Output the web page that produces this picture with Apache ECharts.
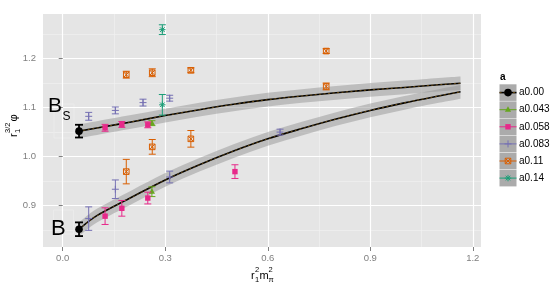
<!DOCTYPE html>
<html><head><meta charset="utf-8">
<script src="https://cdn.jsdelivr.net/npm/echarts@6/dist/echarts.min.js"></script>
<style>html,body{margin:0;padding:0;background:#fff}#c{width:559px;height:285px}</style>
</head><body><div id="c"></div>
<script>
// ---------- data ----------
const groups = ['a0.00', 'a0.043', 'a0.058', 'a0.083', 'a0.11', 'a0.14'];
const groupColors = ['#000000', '#66A61E', '#E7298A', '#7570B3', '#D95F02', '#1B9E77'];
const groupShapes = ['circle', 'triangle', 'square', 'plus', 'boxx', 'star'];

const a000_x = [0.0477, 0.0477];
const a000_y = [1.0517, 0.8513];
const a000_e = [0.013, 0.014];

const a043_x = [0.261, 0.261];
const a043_y = [1.068, 0.928];
const a043_e = [0.005, 0.010];

const a058_x = [0.124, 0.173, 0.249, 0.124, 0.173, 0.249, 0.504];
const a058_y = [1.0585, 1.0654, 1.0646, 0.878, 0.894, 0.915, 0.969];
const a058_e = [0.007, 0.006, 0.006, 0.017, 0.016, 0.012, 0.014];

const a083_x = [0.076, 0.154, 0.235, 0.313, 0.076, 0.154, 0.313, 0.636];
const a083_y = [1.082, 1.094, 1.110, 1.119, 0.873, 0.933, 0.958, 1.0497];
const a083_e = [0.008, 0.007, 0.007, 0.006, 0.024, 0.019, 0.012, 0.006];

const a011_x = [0.186, 0.262, 0.375, 0.262, 0.375, 0.186, 0.771, 0.771];
const a011_y = [1.167, 1.171, 1.176, 1.0196, 1.036, 0.969, 1.2153, 1.143];
const a011_e = [0.007, 0.008, 0.005, 0.015, 0.017, 0.025, 0.005, 0.007];

const a014_x = [0.2915, 0.2915];
const a014_y = [1.259, 1.1055];
const a014_e = [0.010, 0.021];

// fitted curves
const fit_x   = [0.0477, 0.1, 0.2, 0.3, 0.4, 0.5, 0.6, 0.7, 0.8, 0.9, 1.0, 1.1, 1.164];
const fitBs_y = [1.0517, 1.058, 1.0705, 1.0835, 1.0955, 1.1065, 1.116, 1.1235, 1.130, 1.136, 1.141, 1.1465, 1.1495];
const fitB_y  = [0.8513, 0.879, 0.916, 0.952, 0.983, 1.011, 1.036, 1.057, 1.0765, 1.094, 1.1095, 1.1235, 1.132];
const bandHalf = 0.014;

const xTicks = [0.0, 0.3, 0.6, 0.9, 1.2];
const xMinor = [0.15, 0.45, 0.75, 1.05];
const yTicks = [0.9, 1.0, 1.1, 1.2];
const yMinor = [0.85, 0.95, 1.05, 1.15, 1.25];
const xRange = [-0.0577, 1.224];
const yRange = [0.815, 1.291];

// ---------- helpers ----------
const groupData = [
  [a000_x, a000_y, a000_e], [a043_x, a043_y, a043_e], [a058_x, a058_y, a058_e],
  [a083_x, a083_y, a083_e], [a011_x, a011_y, a011_e], [a014_x, a014_y, a014_e]
];
function zip3(xs, ys, es) { return xs.map((x, i) => [x, ys[i], es[i]]); }

function symbolEls(kind, cx, cy, color) {
  const s = { stroke: color, lineWidth: 1, fill: 'none' };
  switch (kind) {
    case 'circle': return [{ type: 'circle', shape: { cx, cy, r: 3.8 }, style: { fill: color } }];
    case 'triangle': return [{ type: 'polygon', shape: { points: [[cx, cy - 3.4], [cx + 3.1, cy + 2.1], [cx - 3.1, cy + 2.1]] }, style: { fill: color } }];
    case 'square': return [{ type: 'rect', shape: { x: cx - 2.7, y: cy - 2.7, width: 5.4, height: 5.4 }, style: { fill: color } }];
    case 'plus': return [
      { type: 'line', shape: { x1: cx - 3.5, y1: cy, x2: cx + 3.5, y2: cy }, style: s },
      { type: 'line', shape: { x1: cx, y1: cy - 3.5, x2: cx, y2: cy + 3.5 }, style: s }];
    case 'boxx': return [
      { type: 'rect', shape: { x: cx - 2.8, y: cy - 2.8, width: 5.6, height: 5.6 }, style: s },
      { type: 'line', shape: { x1: cx - 2.8, y1: cy - 2.8, x2: cx + 2.8, y2: cy + 2.8 }, style: s },
      { type: 'line', shape: { x1: cx - 2.8, y1: cy + 2.8, x2: cx + 2.8, y2: cy - 2.8 }, style: s }];
    case 'star': return [
      { type: 'line', shape: { x1: cx - 3.2, y1: cy, x2: cx + 3.2, y2: cy }, style: s },
      { type: 'line', shape: { x1: cx, y1: cy - 3.2, x2: cx, y2: cy + 3.2 }, style: s },
      { type: 'line', shape: { x1: cx - 2.3, y1: cy - 2.3, x2: cx + 2.3, y2: cy + 2.3 }, style: s },
      { type: 'line', shape: { x1: cx - 2.3, y1: cy + 2.3, x2: cx + 2.3, y2: cy - 2.3 }, style: s }];
  }
  return [];
}

function makeErrSeries(gi) {
  const color = groupColors[gi], kind = groupShapes[gi];
  const isBlack = gi === 0;
  return {
    name: groups[gi], type: 'custom', z: 5,
    data: zip3(groupData[gi][0], groupData[gi][1], groupData[gi][2]),
    encode: { x: 0, y: 1 },
    renderItem: function (params, api) {
      const x = api.value(0), y = api.value(1), e = api.value(2);
      const c = api.coord([x, y]);
      const t = api.coord([x, y + e]);
      const b = api.coord([x, y - e]);
      const hw = isBlack ? 4 : 3.5;
      const lw = isBlack ? 1.8 : 1;
      const st = { stroke: color, lineWidth: lw };
      const children = [
        { type: 'line', shape: { x1: c[0], y1: t[1], x2: c[0], y2: b[1] }, style: st },
        { type: 'line', shape: { x1: c[0] - hw, y1: t[1], x2: c[0] + hw, y2: t[1] }, style: st },
        { type: 'line', shape: { x1: c[0] - hw, y1: b[1], x2: c[0] + hw, y2: b[1] }, style: st }
      ].concat(symbolEls(kind, c[0], c[1], color));
      return { type: 'group', children: children, style: { opacity: isBlack ? 1 : 0.9 } };
    }
  };
}

// Catmull-Rom spline through screen points -> SVG path segments
function splineSegs(p) {
  let d = '';
  for (let i = 0; i < p.length - 1; i++) {
    const p0 = p[Math.max(i - 1, 0)], p1 = p[i], p2 = p[i + 1], p3 = p[Math.min(i + 2, p.length - 1)];
    const c1 = [p1[0] + (p2[0] - p0[0]) / 6, p1[1] + (p2[1] - p0[1]) / 6];
    const c2 = [p2[0] - (p3[0] - p1[0]) / 6, p2[1] - (p3[1] - p1[1]) / 6];
    d += ' C' + c1[0] + ',' + c1[1] + ' ' + c2[0] + ',' + c2[1] + ' ' + p2[0] + ',' + p2[1];
  }
  return d;
}

// fitted curve with its grey ribbon, drawn from fit_x / ys through the axes
function makeFit(ys) {
  const rows = fit_x.map((x, i) => [x, ys[i]]);
  return {
    type: 'custom', z: 3, silent: true,
    data: rows, encode: { x: 0, y: 1 },
    renderItem: function (params, api) {
      if (params.dataIndex !== 0) return null;
      const mid = rows.map(r => api.coord([r[0], r[1]]));
      const up = rows.map(r => api.coord([r[0], r[1] + bandHalf]));
      const lo = rows.map(r => api.coord([r[0], r[1] - bandHalf])).reverse();
      const band = 'M' + up[0][0] + ',' + up[0][1] + splineSegs(up) +
        ' L' + lo[0][0] + ',' + lo[0][1] + splineSegs(lo) + ' Z';
      const line = 'M' + mid[0][0] + ',' + mid[0][1] + splineSegs(mid);
      return {
        type: 'group', children: [
          { type: 'path', shape: { pathData: band }, style: { fill: 'rgba(150,150,150,0.5)', stroke: 'none' } },
          { type: 'path', shape: { pathData: line }, style: { fill: 'none', stroke: '#000', lineWidth: 1.6 } },
          { type: 'path', shape: { pathData: line }, style: { fill: 'none', stroke: '#B8801E', lineWidth: 0.55, lineDash: [2, 2.5] } }
        ]
      };
    }
  };
}

function isTick(v, step) { return Math.abs(v / step - Math.round(v / step)) < 1e-6; }

// ---------- legend (graphic) ----------
const F = '"Liberation Sans", Arial, sans-serif';
const legendEls = [{ type: 'text', style: { text: 'a', x: 500, y: 77, font: 'bold 10px ' + F, fill: '#000', verticalAlign: 'middle', textVerticalAlign: 'middle' } }];
groups.forEach((g, i) => {
  const top = 84.3 + 17.1 * i;
  const cy = top + 8.3, cx = 508;
  const color = groupColors[i];
  legendEls.push({ type: 'rect', shape: { x: 499.5, y: top, width: 17, height: 16.6 }, style: { fill: '#ABABAB' } });
  if (i === 0) {
    legendEls.push({ type: 'line', shape: { x1: 499.5, y1: cy, x2: 516.5, y2: cy }, style: { stroke: '#000', lineWidth: 1.6 } });
    legendEls.push({ type: 'line', shape: { x1: 499.5, y1: cy, x2: 516.5, y2: cy }, style: { stroke: '#B8801E', lineWidth: 0.55, lineDash: [2, 2.5] } });
  } else {
    legendEls.push({ type: 'line', shape: { x1: 499.5, y1: cy, x2: 516.5, y2: cy }, style: { stroke: color, lineWidth: 1 } });
  }
  symbolEls(groupShapes[i], cx, cy, color).forEach(el => legendEls.push(el));
  legendEls.push({ type: 'text', style: { text: g, x: 519, y: cy, font: '10px ' + F, fill: '#000', verticalAlign: 'middle', textVerticalAlign: 'middle' } });
});

// ---------- axis titles & annotations ----------
function T(text, x, y, size, extra) {
  return { type: 'text', style: Object.assign({ text, x, y, font: size + 'px ' + F, fill: '#000', verticalAlign: 'middle', textVerticalAlign: 'middle' }, extra || {}) };
}
const xTitle = {
  type: 'group', x: 251, y: 276, children: [
    T('r', 0, 0, 11), T('2', 4, -6.5, 7.5), T('1', 4, 4, 7.5),
    T('m', 8.5, 0, 11), T('2', 17.5, -6.5, 7.5), T('π', 17.5, 4, 7.5)
  ]
};
const yTitle = {
  type: 'group', x: 13.5, y: 137, rotation: Math.PI / 2, children: [
    T('r', 0, 0, 11), T('1', 4, 4.5, 7.5), T('3/2', 4, -6, 7.5), T('φ', 15.5, 0, 11)
  ]
};
const labels = [
  { type: 'rect', shape: { x: 54, y: 104, width: 20, height: 34 }, style: { fill: 'none', stroke: '#EBEBEB', lineWidth: 1 }, z: 1 },
  { type: 'rect', shape: { x: 53.5, y: 210, width: 20, height: 24 }, style: { fill: 'none', stroke: '#EBEBEB', lineWidth: 1 }, z: 1 },
  Object.assign(T('B', 48, 106.5, 21), { z: 10 }),
  Object.assign(T('S', 62.5, 116.5, 12), { z: 10 }),
  Object.assign(T('B', 51, 229, 22), { z: 10 })
];

// ---------- option ----------
const chart = echarts.init(document.getElementById('c'), null, { renderer: 'canvas' });
const axisLabelStyle = { color: '#7F7F7F', fontSize: 9.5, fontFamily: F };
const option = {
  animation: false,
  backgroundColor: '#fff',
  grid: { left: 43, top: 14, right: 78, bottom: 38, show: true, backgroundColor: '#E5E5E5', borderWidth: 0 },
  xAxis: [
    {
      type: 'value', min: xRange[0], max: xRange[1], minInterval: 0.3, maxInterval: 0.3, z: 1,
      axisLine: { show: false },
      axisTick: { show: true, length: 4, customValues: xTicks, lineStyle: { color: '#7F7F7F' } },
      axisLabel: Object.assign({ customValues: xTicks, margin: 6, formatter: v => isTick(v, 0.3) ? v.toFixed(1) : '' }, axisLabelStyle),
      splitLine: { show: true, lineStyle: { color: '#FFFFFF', width: 1.2 } }
    },
    {
      type: 'value', min: xRange[0], max: xRange[1], minInterval: 0.15, maxInterval: 0.15, z: 0,
      axisLine: { show: false }, axisTick: { show: false, customValues: xMinor }, axisLabel: { show: false },
      splitLine: { show: true, lineStyle: { color: '#F2F2F2', width: 0.6 } }
    }
  ],
  yAxis: [
    {
      type: 'value', min: yRange[0], max: yRange[1], minInterval: 0.1, maxInterval: 0.1, z: 1,
      axisLine: { show: false },
      axisTick: { show: true, length: 4, customValues: yTicks, lineStyle: { color: '#7F7F7F' } },
      axisLabel: Object.assign({ customValues: yTicks, margin: 7, formatter: v => isTick(v, 0.1) ? v.toFixed(1) : '' }, axisLabelStyle),
      splitLine: { show: true, lineStyle: { color: '#FFFFFF', width: 1.2 } }
    },
    {
      type: 'value', min: yRange[0], max: yRange[1], minInterval: 0.05, maxInterval: 0.05, z: 0,
      axisLine: { show: false }, axisTick: { show: false, customValues: yMinor }, axisLabel: { show: false },
      splitLine: { show: true, lineStyle: { color: '#F2F2F2', width: 0.6 } }
    }
  ],
  series: [makeFit(fitBs_y), makeFit(fitB_y)].concat(groups.map((g, i) => makeErrSeries(i))),
  graphic: { elements: legendEls.concat([xTitle, yTitle]).concat(labels) }
};
chart.setOption(option);
</script></body></html>
